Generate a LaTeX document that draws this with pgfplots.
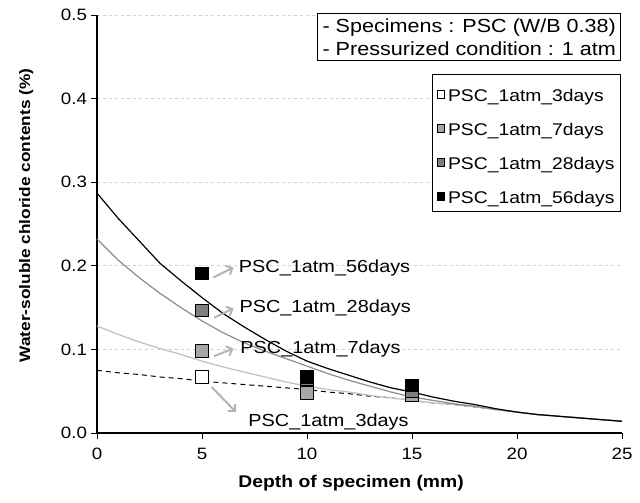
\documentclass[border=0pt]{standalone}
\usepackage{pgfplots}
\pgfplotsset{compat=1.18}
\usepackage{fontspec}
\setmainfont[FakeStretch=1.14]{Liberation Sans}
\usetikzlibrary{arrows.meta}
\definecolor{gA}{HTML}{A6A6A6}
\definecolor{gB}{HTML}{7F7F7F}
\definecolor{cL}{HTML}{BFBFBF}
\definecolor{cM}{HTML}{8C8C8C}
\definecolor{arr}{HTML}{B4B4B4}
\definecolor{grd}{HTML}{D0D0D0}
\begin{document}
\fontsize{17.5}{20}\selectfont
\begin{tikzpicture}
\useasboundingbox (0,0) rectangle (640bp,503bp);
\begin{axis}[
  at={(97bp,70bp)}, anchor=south west,
  scale only axis, width=525bp, height=418bp,
  xmin=0, xmax=25, ymin=0, ymax=0.5,
  axis lines=left, axis line style={line width=1.2pt, -},
  xtick={0,5,...,25}, ytick={0,0.1,...,0.5},
  tick align=outside, major tick length=6bp,
  tick style={black, line width=1pt},
  ymajorgrids, grid style={dashed, grd, line width=0.8pt},
  /pgf/number format/assume math mode=true,
  yticklabel style={/pgf/number format/fixed, /pgf/number format/fixed zerofill, /pgf/number format/precision=1, font=\fontsize{16.5}{19}\selectfont, xshift=2bp},
  xticklabel style={font=\fontsize{16.5}{19}\selectfont, yshift=-3bp},
  xlabel={\textbf{Depth of specimen (mm)}},
  ylabel={\textbf{Water-soluble chloride contents (\%)}},
  xlabel style={at={(axis description cs:0.484,-0.12)}, anchor=center, font=\fontsize{17}{20}\selectfont},
  ylabel style={at={(axis description cs:-0.135,0.52)}, anchor=center, font=\fontsize{15.2}{19}\selectfont},
  legend style={at={(axis description cs:0.998,0.858)}, anchor=north east, draw=black, line width=1pt, fill=white, font=\fontsize{17}{20}\selectfont, row sep=5bp, inner ysep=3bp, inner xsep=4bp, legend cell align=left,
    nodes={text height=22bp, text depth=3bp},
    /tikz/every odd column/.append style={column sep=2bp}},
  legend image code/.code={\draw[#1, mark size=3.6bp, line width=0.6pt] plot coordinates {(0.1cm,-2bp)};},
  clip=false,
]
% markers
\addplot[only marks, mark=square*, mark size=6.2bp, mark options={fill=white, draw=black, line width=0.8pt}] coordinates {(5,0.067) (10,0.048) (15,0.045)};
\addlegendentry{PSC\_1atm\_3days}
\addplot[only marks, mark=square*, mark size=6.2bp, mark options={fill=gA, draw=black, line width=0.8pt}] coordinates {(5,0.098) (10,0.048) (15,0.045)};
\addlegendentry{PSC\_1atm\_7days}
\addplot[only marks, mark=square*, mark size=6.2bp, mark options={fill=gB, draw=black, line width=0.8pt}] coordinates {(5,0.147) (10,0.064) (15,0.050)};
\addlegendentry{PSC\_1atm\_28days}
\addplot[only marks, mark=square*, mark size=6.2bp, mark options={fill=black, draw=black, line width=0.8pt}] coordinates {(5,0.191) (10,0.067) (15,0.057)};
\addlegendentry{PSC\_1atm\_56days}
% fitted curves
\addplot[black, line width=1pt, dash pattern=on 5bp off 4bp, forget plot] coordinates {
(0,0.075) (1,0.072) (2,0.070) (3,0.067) (4,0.065) (5,0.062) (6,0.060) (7,0.058) (8,0.056) (9,0.054) (10,0.052) (11,0.049) (12,0.047) (13,0.044) (14,0.042) (15,0.039) (16,0.036) (17,0.034) (18,0.031) (19,0.028) (20,0.025) (21,0.022) (22,0.020) (23,0.018) (24,0.016) (25,0.014)};
\addplot[cL, line width=1.2pt, forget plot] coordinates {
(0,0.128) (1,0.118) (2,0.109) (3,0.101) (4,0.094) (5,0.086) (6,0.079) (7,0.073) (8,0.067) (9,0.061) (10,0.056) (11,0.052) (12,0.049) (13,0.045) (14,0.042) (15,0.039) (16,0.036) (17,0.034) (18,0.031) (19,0.028) (20,0.025) (21,0.022) (22,0.020) (23,0.018) (24,0.016) (25,0.014)};
\addplot[cM, line width=1.2pt, forget plot] coordinates {
(0,0.232) (1,0.207) (2,0.186) (3,0.167) (4,0.150) (5,0.134) (6,0.120) (7,0.108) (8,0.098) (9,0.089) (10,0.080) (11,0.071) (12,0.063) (13,0.056) (14,0.049) (15,0.043) (16,0.039) (17,0.035) (18,0.032) (19,0.028) (20,0.025) (21,0.022) (22,0.020) (23,0.018) (24,0.016) (25,0.014)};
\addplot[black, line width=1.2pt, forget plot] coordinates {
(0,0.287) (1,0.257) (2,0.230) (3,0.203) (4,0.182) (5,0.162) (6,0.143) (7,0.127) (8,0.112) (9,0.098) (10,0.086) (11,0.077) (12,0.069) (13,0.061) (14,0.054) (15,0.049) (16,0.043) (17,0.038) (18,0.034) (19,0.029) (20,0.025) (21,0.022) (22,0.020) (23,0.018) (24,0.016) (25,0.014)};
% annotations
\draw[arr, line width=2pt, -{Straight Barb[length=5bp, width=10bp]}] (axis cs:5.54,0.186) -- (axis cs:6.5,0.198);
\draw[arr, line width=2pt, -{Straight Barb[length=5bp, width=10bp]}] (axis cs:5.58,0.138) -- (axis cs:6.5,0.149);
\draw[arr, line width=2pt, -{Straight Barb[length=5bp, width=10bp]}] (axis cs:5.58,0.092) -- (axis cs:6.5,0.101);
\draw[arr, line width=2pt, -{Straight Barb[length=5bp, width=10bp]}] (axis cs:5.46,0.055) -- (axis cs:6.62,0.025);
\node[anchor=west, inner sep=0pt] at (axis cs:6.75,0.197) {PSC\_1atm\_56days};
\node[anchor=west, inner sep=0pt] at (axis cs:6.78,0.149) {PSC\_1atm\_28days};
\node[anchor=west, inner sep=0pt] at (axis cs:6.82,0.101) {PSC\_1atm\_7days};
\node[anchor=west, inner sep=0pt] at (axis cs:7.2,0.0135) {PSC\_1atm\_3days};
\node[draw=black, line width=1pt, fill=white, anchor=north east, align=left, inner xsep=5bp, inner ysep=5bp, font=\fontsize{19}{23}\selectfont] at (axis description cs:0.999,1.005) {- Specimens : PSC (W/B 0.38)\\- Pressurized condition : 1 atm};
\end{axis}
\end{tikzpicture}
\end{document}
